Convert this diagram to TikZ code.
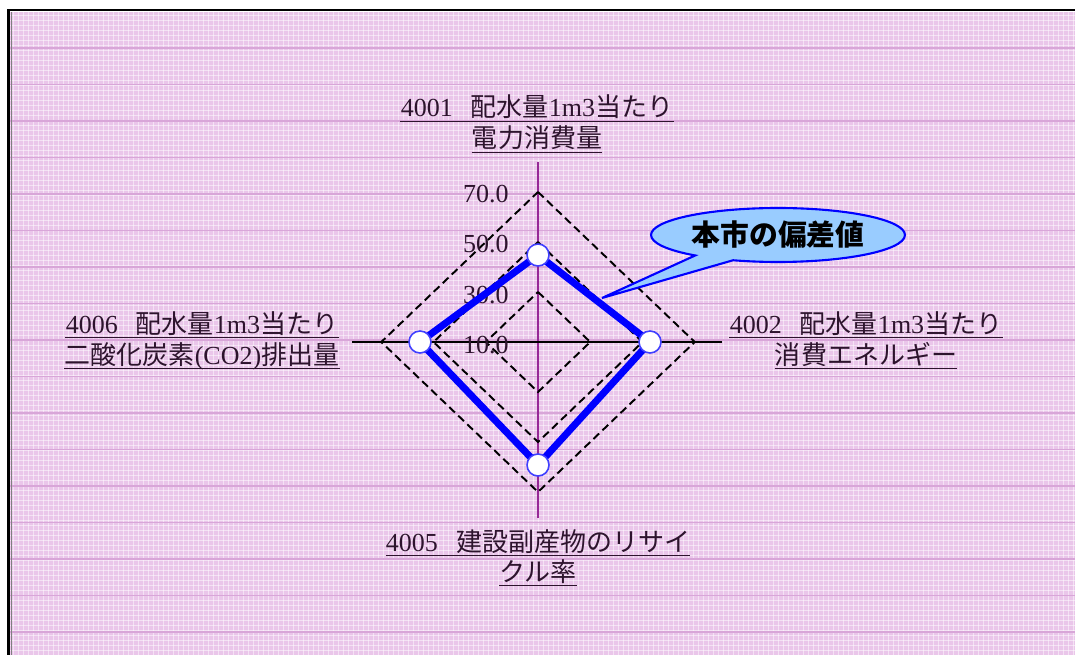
\documentclass[tikz,border=0pt]{standalone}
\usepackage{fontspec}
\setmainfont{Liberation Serif}
\newfontfamily\jp{Noto Sans CJK JP}
\usetikzlibrary{shapes.callouts}
\definecolor{bgpink}{RGB}{234,198,234}
\definecolor{bandpink}{RGB}{216,166,216}
\definecolor{axpurple}{RGB}{150,40,150}
\definecolor{txtdark}{RGB}{45,20,45}
\definecolor{serblue}{RGB}{0,0,255}
\definecolor{bubblue}{RGB}{153,204,255}

\begin{document}
\begin{tikzpicture}[x=0.02cm,y=-0.02cm,
  lbl/.style={font=\fontsize{14.8}{18}\selectfont,text=txtdark,inner sep=0pt,anchor=base},
  ticklbl/.style={font=\fontsize{14.8}{18}\selectfont,text=txtdark,inner sep=0pt,anchor=base east},
  ulline/.style={txtdark,line width=0.85pt},
  gridw/.style={white,line width=0.5pt,opacity=0.5},
  band/.style={bandpink,line width=0.9pt},
  ring/.style={black,line width=1.1pt,dash pattern=on 4.5pt off 2.6pt},
  ptmark/.style={circle,draw=serblue!75,line width=0.9pt,fill=white,minimum size=0.44cm,inner sep=0pt},
  bubble/.style={ellipse callout,draw=serblue,line width=1.2pt,fill=bubblue,callout pointer arc=20,
    minimum width=5.08cm,minimum height=1.08cm,inner sep=0pt,font=\fontsize{16.4}{20}\selectfont\jp\bfseries}]
\useasboundingbox (0,0) rectangle (1075,655);

% Sheet and frame
\fill[white] (0,0) rectangle (1075,655);
\fill[bgpink] (10,12) rectangle (1075,655);
\foreach \x in {13,18,...,1075} \draw[gridw] (\x,12) -- (\x,655);
\foreach \y in {15,20,...,655} \draw[gridw] (10,\y) -- (1075,\y);
\foreach \i in {0,...,16} \draw[band] (10,{48+36.5*\i}) -- (1075,{48+36.5*\i});
\draw[black,line width=1.7pt] (8.5,655) -- (8.5,10) -- (1075,10);
\draw[gray,line width=0.6pt] (11.5,12) -- (11.5,655);

% Axes
\coordinate (c) at (538,342);
\coordinate (axN) at (538,162);
\coordinate (axS) at (538,518);
\coordinate (axW) at (352,342);
\coordinate (axE) at (722,342);
\draw[axpurple,line width=0.6pt] (axN) -- (axS);
\draw[black,line width=0.6pt] (axW) -- (axE);

% Grid diamonds
\foreach \r in {50,100,150} {
    \draw[ring] (538,342-\r) -- (538+1.045*\r,342) -- (538,342+\r) -- (538-1.045*\r,342) -- cycle;
}

% Scale
\node[ticklbl] (s70) at (509,203) {70.0};
\node[ticklbl] (s50) at (509,253) {50.0};
\node[ticklbl] (s30) at (509,303) {30.0};
\node[ticklbl] (s10) at (509,353) {10.0};

% Series
\coordinate (v1) at (538,255);
\coordinate (v2) at (650,342);
\coordinate (v5) at (538,465);
\coordinate (v6) at (420,342);
\draw[serblue,line width=4pt,line join=round] (v1) -- (v2) -- (v5) -- (v6) -- cycle;
\foreach \v in {v1,v2,v5,v6} \node[ptmark] (p\v) at (\v) {};

% Axis titles
\node[lbl] (t1a) at (537,117) {4001\hspace{0.7em}{\jp 配水量}1m3{\jp 当たり}};
\node[lbl] (t1b) at (537,148) {\jp 電力消費量};
\node[lbl] (t2a) at (866,333) {4002\hspace{0.7em}{\jp 配水量}1m3{\jp 当たり}};
\node[lbl] (t2b) at (866,364) {\jp 消費エネルギー};
\node[lbl] (t5a) at (538,551) {4005\hspace{0.7em}{\jp 建設副産物のリサイ}};
\node[lbl] (t5b) at (538,581) {\jp クル率};
\node[lbl] (t6a) at (202,333) {4006\hspace{0.7em}{\jp 配水量}1m3{\jp 当たり}};
\node[lbl] (t6b) at (202,364) {{\jp 二酸化炭素}(CO2){\jp 排出量}};
\foreach \t in {t1a,t1b,t2a,t2b,t5a,t5b,t6a,t6b}
    \draw[ulline] ([yshift=-2.6pt]\t.base west) -- ([yshift=-2.6pt]\t.base east);

% Callout
\coordinate (tip) at (602,298);
\node[bubble,callout absolute pointer={(tip)}] (note) at (778,235) {本市の偏差値};
\end{tikzpicture}
\end{document}
